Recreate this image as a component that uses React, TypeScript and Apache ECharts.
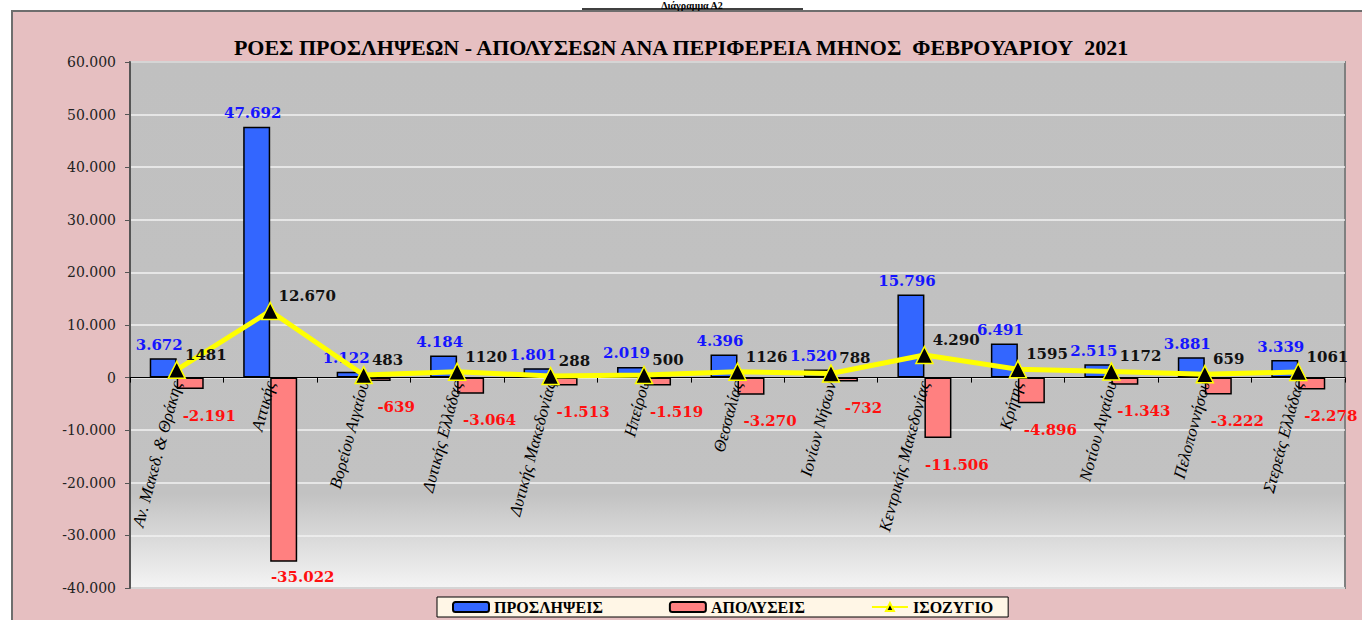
import React, { useEffect, useRef } from "react";
import * as echarts from "echarts";

const categories = [
  "Αν. Μακεδ. & Θράκης",
  "Αττικής",
  "Βορείου Αιγαίου",
  "Δυτικής Ελλάδας",
  "Δυτικής Μακεδονίας",
  "Ηπείρου",
  "Θεσσαλίας",
  "Ιονίων Νήσων",
  "Κεντρικής Μακεδονίας",
  "Κρήτης",
  "Νοτίου Αιγαίου",
  "Πελοποννήσου",
  "Στερεάς Ελλάδας",
];
const hires = [3672, 47692, 1122, 4184, 1801, 2019, 4396, 1520, 15796, 6491, 2515, 3881, 3339];
const layoffs = [-2191, -35022, -639, -3064, -1513, -1519, -3270, -732, -11506, -4896, -1343, -3222, -2278];
const balance = [1481, 12670, 483, 1120, 288, 500, 1126, 788, 4290, 1595, 1172, 659, 1061];
const balanceLabels = ["1481", "12.670", "483", "1120", "288", "500", "1126", "788", "4.290", "1595", "1172", "659", "1061"];

const title = "ΡΟΕΣ ΠΡΟΣΛΗΨΕΩΝ - ΑΠΟΛΥΣΕΩΝ ΑΝΑ ΠΕΡΙΦΕΡΕΙΑ ΜΗΝΟΣ  ΦΕΒΡΟΥΑΡΙΟΥ  2021";
const heading = "Διάγραμμα Α2";
const legendNames = ["ΠΡΟΣΛΗΨΕΙΣ", "ΑΠΟΛΥΣΕΙΣ", "ΙΣΟΖΥΓΙΟ"];

const yMin = -40000;
const yMax = 60000;

const fmt = (v: number) => {
  const s = Math.abs(v).toString().replace(/\B(?=(\d{3})+(?!\d))/g, ".");
  return (v < 0 ? "-" : "") + s;
};

const labelFont = "'DejaVu Serif', serif";
const serif = "'Liberation Serif', 'Times New Roman', serif";

const GRID_TOP = 62;
const GRID_BOTTOM = 32;
const H = 620;

export default function App() {
  const ref = useRef<HTMLDivElement>(null);
  useEffect(() => {
    if (!ref.current) return;
    const chart = echarts.init(ref.current, undefined, { renderer: "svg" });
    const gridH = H - GRID_TOP - GRID_BOTTOM;
    const zeroFromBottom = (gridH * (0 - yMin)) / (yMax - yMin);
    chart.setOption({
      animation: false,
      backgroundColor: "#ffffff",
      graphic: [
        {
          type: "rect",
          z: -10,
          silent: true,
          shape: { x: 12, y: 11, width: 1400, height: 700 },
          style: { fill: "#E6BFC1", stroke: "#6E6E6E", lineWidth: 2 },
        },
        {
          type: "text",
          z: 10,
          style: {
            x: 692,
            y: 0,
            text: heading,
            align: "center",
            verticalAlign: "top",
            font: "bold 10px 'Liberation Serif', serif",
            fill: "#000",
          },
        },
        {
          type: "line",
          z: 10,
          shape: { x1: 582, y1: 9, x2: 803, y2: 9 },
          style: { stroke: "#000", lineWidth: 1.5 },
        },
      ],
      title: {
        text: title,
        left: 676,
        textAlign: "center",
        top: 31,
        textStyle: {
          fontFamily: serif,
          fontWeight: "bold",
          fontSize: 22,
          color: "#000",
        },
      },
      legend: {
        data: legendNames,
        left: 437,
        top: 597,
        backgroundColor: "#FFF6E6",
        borderColor: "#000",
        borderWidth: 1,
        borderRadius: 0,
        padding: [2, 15, 2, 15],
        itemGap: 66,
        itemWidth: 36,
        itemHeight: 10,
        textStyle: {
          fontFamily: serif,
          fontWeight: "bold",
          fontSize: 16,
          color: "#000",
        },
      },
      grid: {
        left: 130,
        right: 17,
        top: GRID_TOP,
        bottom: GRID_BOTTOM,
        containLabel: false,
        outerBoundsMode: "none",
        show: true,
        borderColor: "#808080",
        borderWidth: 2,
        backgroundColor: new echarts.graphic.LinearGradient(0, 0, 0, 1, [
          { offset: 0, color: "#C0C0C0" },
          { offset: 0.82, color: "#C2C2C2" },
          { offset: 1, color: "#F4F4F4" },
        ]),
      },
      xAxis: {
        type: "category",
        data: categories,
        position: "bottom",
        offset: -zeroFromBottom,
        axisLine: { onZero: false, lineStyle: { color: "#000", width: 1 } },
        axisTick: { show: true, length: 5, lineStyle: { color: "#000" } },
        axisLabel: {
          interval: 0,
          rotate: 75,
          margin: 4,
          fontFamily: serif,
          fontStyle: "italic",
          fontSize: 17,
          color: "#000",
        },
        z: 5,
      },
      yAxis: {
        type: "value",
        min: yMin,
        max: yMax,
        interval: 10000,
        axisLine: { show: true, lineStyle: { color: "#555", width: 2 } },
        axisTick: { show: true, length: 5, lineStyle: { color: "#555" } },
        axisLabel: {
          formatter: (v: number) => fmt(v),
          fontFamily: labelFont,
          fontSize: 14,
          color: "#222",
          margin: 14,
        },
        splitLine: { lineStyle: { color: "#F2F2F2", width: 1.5 } },
      },
      series: [
        {
          name: legendNames[0],
          type: "bar",
          data: hires,
          barWidth: 27,
          barGap: "0%",
          itemStyle: { color: "#3366FF", borderColor: "#000", borderWidth: 1.5 },
          label: {
            show: true,
            position: "top",
            distance: 6,
            offset: [-4, 0],
            formatter: (p: any) => fmt(p.value),
            fontFamily: labelFont,
            fontWeight: "bold",
            fontSize: 15,
            color: "#1515FF",
          },
        },
        {
          name: legendNames[1],
          type: "bar",
          data: layoffs,
          barWidth: 27,
          barGap: "0%",
          itemStyle: { color: "#FF8080", borderColor: "#000", borderWidth: 1.5 },
          label: {
            show: true,
            position: "bottom",
            distance: 19,
            formatter: (p: any) => fmt(p.value),
            fontFamily: labelFont,
            fontWeight: "bold",
            fontSize: 15,
            color: "#FF1010",
          },
          labelLayout: (p: any) => {
            const bottom = p.labelRect.y + p.labelRect.height;
            return { dx: 19, dy: bottom > 584 ? 584 - bottom : 0 };
          },
        },
        {
          name: legendNames[2],
          type: "line",
          data: balance,
          z: 10,
          symbol: "triangle",
          symbolSize: 17,
          lineStyle: { color: "#FFFF00", width: 5 },
          itemStyle: { color: "#000", borderColor: "#FFFF00", borderWidth: 1.5 },
          label: {
            show: true,
            position: "right",
            distance: 0,
            offset: [-1, -15],
            formatter: (p: any) => balanceLabels[p.dataIndex],
            fontFamily: labelFont,
            fontWeight: "bold",
            fontSize: 15,
            color: "#111",
          },
        },
      ],
    });
    return () => chart.dispose();
  }, []);
  return (
    <div
      ref={ref}
      style={{ position: "absolute", left: 0, top: 0, width: 1362, height: 620 }}
    />
  );
}
